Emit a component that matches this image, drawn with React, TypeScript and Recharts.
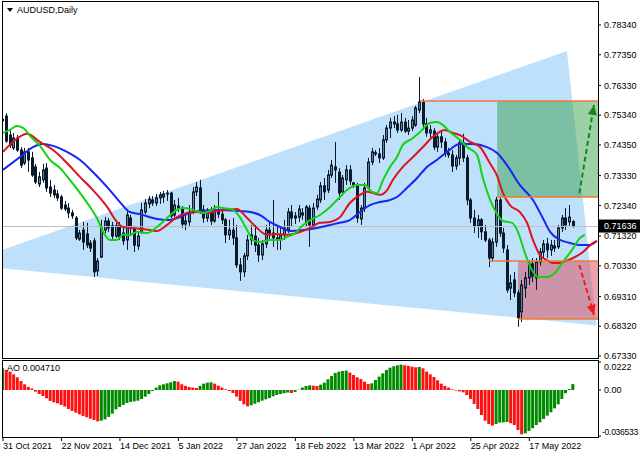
import React from 'react';
import { ComposedChart, Bar, Line, Area, XAxis, YAxis, ReferenceArea, ReferenceLine, Cell } from 'recharts';

const FONT = '"Liberation Sans", Arial, sans-serif';

// ---------- axes ----------
const X_DOMAIN: [number, number] = [-0.27, 162.8];
const PRICE_DOMAIN: [number, number] = [0.67264, 0.79105];
const AO_DOMAIN: [number, number] = [-0.03733, 0.023];

const priceTicks = [0.7834, 0.7735, 0.7633, 0.7534, 0.7435, 0.7333, 0.7234, 0.7132, 0.7033, 0.6931, 0.6832, 0.6733];
const lastPrice = 0.71636;
const aoTicks = [0.0222, 0, -0.036533];
const aoTickLabels = ['0.0222', '0.00', '-0.036533'];
const dateTicks = [0, 16, 32, 48, 64, 80, 96, 112, 128, 144];
const dateLabels = ['31 Oct 2021', '22 Nov 2021', '14 Dec 2021', '5 Jan 2022', '27 Jan 2022', '18 Feb 2022', '13 Mar 2022', '1 Apr 2022', '25 Apr 2022', '17 May 2022'];

// ---------- daily candles [open, high, low, close] ----------
const ohlc: [number, number, number, number][] = [
  [0.7515, 0.7531, 0.7508, 0.7521], [0.7531, 0.7541, 0.7442, 0.7448], [0.7468, 0.7485, 0.7425, 0.7435], [0.7425, 0.7475, 0.7418, 0.7458],
  [0.7458, 0.7468, 0.7412, 0.7418], [0.7418, 0.7428, 0.7358, 0.7368], [0.7375, 0.7425, 0.7368, 0.7412], [0.7412, 0.7425, 0.7345, 0.7385],
  [0.7392, 0.7412, 0.7329, 0.7335], [0.7362, 0.7372, 0.7305, 0.7312], [0.7305, 0.7345, 0.7295, 0.7329], [0.7319, 0.7372, 0.7309, 0.7352],
  [0.7358, 0.7375, 0.7279, 0.7292], [0.7295, 0.7319, 0.7262, 0.7275], [0.7285, 0.7302, 0.7259, 0.7269], [0.7272, 0.7285, 0.7249, 0.7259],
  [0.7262, 0.7269, 0.7219, 0.7225], [0.7235, 0.7249, 0.7215, 0.7222], [0.7225, 0.7242, 0.7192, 0.7209], [0.7209, 0.7219, 0.7189, 0.7199],
  [0.7192, 0.7199, 0.7119, 0.7126], [0.7122, 0.7152, 0.7116, 0.7142], [0.7152, 0.7179, 0.7086, 0.7112], [0.7139, 0.7176, 0.7092, 0.7102],
  [0.7109, 0.7119, 0.7079, 0.7092], [0.7116, 0.7126, 0.6996, 0.7013], [0.7016, 0.7059, 0.6999, 0.7049], [0.7062, 0.7186, 0.7059, 0.7159],
  [0.7152, 0.7196, 0.7142, 0.7182], [0.7182, 0.7192, 0.7146, 0.7159], [0.7166, 0.7179, 0.7119, 0.7132], [0.7132, 0.7176, 0.7126, 0.7166],
  [0.7166, 0.7179, 0.7119, 0.7129], [0.7142, 0.7166, 0.7102, 0.7116], [0.7119, 0.7219, 0.7086, 0.7202], [0.7192, 0.7202, 0.7132, 0.7159],
  [0.7156, 0.7166, 0.7079, 0.7102], [0.7099, 0.7146, 0.7086, 0.7132], [0.7146, 0.7242, 0.7139, 0.7219], [0.7212, 0.7255, 0.7205, 0.7242],
  [0.7239, 0.7265, 0.7225, 0.7255], [0.7252, 0.7265, 0.7232, 0.7242], [0.7242, 0.7272, 0.7232, 0.7259], [0.7259, 0.7279, 0.7239, 0.7269],
  [0.7262, 0.7282, 0.7242, 0.7272], [0.7272, 0.7285, 0.7249, 0.7275], [0.7275, 0.7279, 0.7192, 0.7199], [0.7202, 0.7252, 0.7195, 0.7235],
  [0.7232, 0.7259, 0.7212, 0.7225], [0.7225, 0.7232, 0.7159, 0.7172], [0.7172, 0.7202, 0.7152, 0.7182], [0.7179, 0.7235, 0.7166, 0.7212],
  [0.7212, 0.7295, 0.7205, 0.7279], [0.7279, 0.7312, 0.7265, 0.7295], [0.7292, 0.7319, 0.7205, 0.7219], [0.7219, 0.7235, 0.7176, 0.7192],
  [0.7192, 0.7225, 0.7179, 0.7209], [0.7209, 0.7229, 0.7169, 0.7182], [0.7182, 0.7235, 0.7176, 0.7219], [0.7215, 0.7279, 0.7192, 0.7205],
  [0.7205, 0.7229, 0.7172, 0.7186], [0.7186, 0.7192, 0.7109, 0.7136], [0.7136, 0.7186, 0.7119, 0.7152], [0.7152, 0.7192, 0.7102, 0.7126],
  [0.7126, 0.7169, 0.7026, 0.7036], [0.7036, 0.7059, 0.6983, 0.7013], [0.7013, 0.7076, 0.6996, 0.7066], [0.7066, 0.7136, 0.7052, 0.7119],
  [0.7119, 0.7169, 0.7102, 0.7136], [0.7132, 0.7169, 0.7079, 0.7102], [0.7102, 0.7126, 0.7046, 0.7069], [0.7069, 0.7119, 0.7052, 0.7106],
  [0.7106, 0.7169, 0.7092, 0.7152], [0.7152, 0.7179, 0.7119, 0.7142], [0.7142, 0.7252, 0.7096, 0.7126], [0.7126, 0.7169, 0.7086, 0.7119],
  [0.7119, 0.7159, 0.7086, 0.7136], [0.7136, 0.7186, 0.7119, 0.7159], [0.7152, 0.7225, 0.7142, 0.7212], [0.7212, 0.7235, 0.7162, 0.7192],
  [0.7192, 0.7212, 0.7172, 0.7199], [0.7195, 0.7235, 0.7179, 0.7222], [0.7209, 0.7225, 0.7186, 0.7202], [0.7179, 0.7235, 0.7162, 0.7229],
  [0.7225, 0.7235, 0.7096, 0.7169], [0.7169, 0.7242, 0.7159, 0.7225], [0.7229, 0.7269, 0.7219, 0.7255], [0.7252, 0.7312, 0.7242, 0.7299],
  [0.7299, 0.7325, 0.7252, 0.7279], [0.7285, 0.7352, 0.7275, 0.7335], [0.7335, 0.7385, 0.7325, 0.7368], [0.7362, 0.7445, 0.7309, 0.7352],
  [0.7345, 0.7358, 0.7252, 0.7275], [0.7279, 0.7335, 0.7265, 0.7325], [0.7319, 0.7368, 0.7302, 0.7352], [0.7352, 0.7368, 0.7302, 0.7315],
  [0.7309, 0.7312, 0.7292, 0.7299], [0.7299, 0.7309, 0.7176, 0.7192], [0.7189, 0.7235, 0.7169, 0.7225], [0.7225, 0.7309, 0.7212, 0.7292],
  [0.7292, 0.7392, 0.7285, 0.7378], [0.7378, 0.7425, 0.7368, 0.7412], [0.7409, 0.7418, 0.7398, 0.7405], [0.7405, 0.7425, 0.7375, 0.7392],
  [0.7392, 0.7468, 0.7385, 0.7452], [0.7452, 0.7501, 0.7442, 0.7491], [0.7491, 0.7525, 0.7458, 0.7511], [0.7511, 0.7531, 0.7491, 0.7505],
  [0.7505, 0.7535, 0.7475, 0.7485], [0.7485, 0.7541, 0.7478, 0.7511], [0.7511, 0.7525, 0.7475, 0.7481], [0.7481, 0.7518, 0.7468, 0.7491],
  [0.7491, 0.7531, 0.7481, 0.7518], [0.7501, 0.7565, 0.7495, 0.7558], [0.7551, 0.7661, 0.7541, 0.7578], [0.7578, 0.7588, 0.7485, 0.7505],
  [0.7505, 0.7525, 0.7462, 0.7475], [0.7475, 0.7501, 0.7452, 0.7485], [0.7481, 0.7491, 0.7418, 0.7428], [0.7428, 0.7475, 0.7412, 0.7462],
  [0.7462, 0.7485, 0.7425, 0.7445], [0.7445, 0.7458, 0.7395, 0.7408], [0.7408, 0.7425, 0.7392, 0.7402], [0.7402, 0.7418, 0.7345, 0.7365],
  [0.7365, 0.7402, 0.7352, 0.7392], [0.7392, 0.7452, 0.7368, 0.7442], [0.7442, 0.7472, 0.7378, 0.7392], [0.7392, 0.7402, 0.7235, 0.7252],
  [0.7252, 0.7259, 0.7176, 0.7192], [0.7192, 0.7219, 0.7142, 0.7166], [0.7166, 0.7202, 0.7126, 0.7186], [0.7186, 0.7192, 0.7119, 0.7146],
  [0.7146, 0.7169, 0.7112, 0.7119], [0.7119, 0.7126, 0.7029, 0.7059], [0.7059, 0.7126, 0.7046, 0.7112], [0.7112, 0.7262, 0.7096, 0.7252],
  [0.7252, 0.7259, 0.7129, 0.7142], [0.7142, 0.7159, 0.7076, 0.7092], [0.7086, 0.7102, 0.6943, 0.6953], [0.6959, 0.7003, 0.6919, 0.6976],
  [0.6986, 0.7013, 0.6929, 0.6943], [0.6943, 0.6953, 0.683, 0.686], [0.688, 0.6986, 0.6846, 0.6969], [0.6959, 0.7013, 0.6926, 0.6993],
  [0.6993, 0.7052, 0.6969, 0.7039], [0.7039, 0.7059, 0.6979, 0.6999], [0.6993, 0.7059, 0.6953, 0.7046], [0.7046, 0.7092, 0.7033, 0.7079],
  [0.7079, 0.7119, 0.7059, 0.7106], [0.7106, 0.7126, 0.7059, 0.7086], [0.7086, 0.7119, 0.7066, 0.7102], [0.7099, 0.7119, 0.7079, 0.7092],
  [0.7096, 0.7169, 0.7089, 0.7159], [0.7159, 0.7202, 0.7146, 0.7192], [0.7192, 0.7225, 0.7152, 0.7169], [0.7179, 0.7235, 0.7166, 0.7195],
  [0.718, 0.7185, 0.716, 0.71636],
];

// ---------- Awesome Oscillator ----------
const aoValues = [
  0.0172, 0.0159, 0.0146, 0.0124, 0.0101, 0.0071, 0.0045, 0.0024, 0.0011, -0.0013,
  -0.0032, -0.0048, -0.0066, -0.0087, -0.0098, -0.0106, -0.0119, -0.0132, -0.0151, -0.0167,
  -0.018, -0.0193, -0.0206, -0.0217, -0.0228, -0.0238, -0.0249, -0.0244, -0.0233, -0.0214,
  -0.0188, -0.0154, -0.0135, -0.0119, -0.0103, -0.0095, -0.009, -0.0085, -0.0071, -0.0053,
  -0.0032, -0.0008, 0.0019, 0.0037, 0.0045, 0.0053, 0.0061, 0.0071, 0.0066, 0.0045,
  0.0032, 0.0024, 0.0019, 0.0016, 0.0032, 0.005, 0.0058, 0.0061, 0.005, 0.0034,
  0.0019, 0.0005, -0.0008, -0.0024, -0.0053, -0.0087, -0.0114, -0.013, -0.0122, -0.0109,
  -0.0098, -0.0085, -0.0074, -0.0064, -0.005, -0.004, -0.0032, -0.0026, -0.0021, -0.0024,
  -0.0016, 0.0002, 0.0019, 0.0032, 0.0037, 0.0034, 0.0032, 0.0042, 0.0058, 0.0085,
  0.0111, 0.0135, 0.0146, 0.0151, 0.0154, 0.0138, 0.0119, 0.0101, 0.0087, 0.0066,
  0.0048, 0.0053, 0.0079, 0.0106, 0.0132, 0.0159, 0.0177, 0.0188, 0.0196, 0.0201,
  0.0196, 0.0191, 0.0185, 0.018, 0.0183, 0.0172, 0.0146, 0.0124, 0.0103, 0.0077,
  0.005, 0.0032, 0.0019, 0.0005, -0.0005, -0.0011, -0.0019, -0.004, -0.0071, -0.0111,
  -0.0151, -0.0199, -0.0244, -0.027, -0.0283, -0.027, -0.0259, -0.0257, -0.0254, -0.0265,
  -0.0278, -0.0318, -0.0352, -0.0344, -0.0326, -0.0304, -0.0278, -0.0257, -0.023, -0.0204,
  -0.0177, -0.0146, -0.0114, -0.0071, -0.0026, 0.0008, 0.0047,
];
const aoLabel = 'AO 0.004710';

// ---------- Alligator lines [bar, price] ----------
const jaw: [number, number][] = [
  [0, 0.7352], [4.65, 0.7395], [8.2, 0.7428], [10.9, 0.7438], [13.7, 0.7432], [17.5, 0.7412], [21.1, 0.7385],
  [24.6, 0.7345], [28.5, 0.7295], [32, 0.7245], [34.7, 0.7212], [37.5, 0.7205], [41, 0.7192], [44.9, 0.7185],
  [48.4, 0.7195], [51.2, 0.7209], [53.9, 0.7215], [59.4, 0.7219], [64.8, 0.7215], [67.6, 0.7212], [70.3, 0.7202],
  [73, 0.7179], [75.8, 0.7162], [78.5, 0.7149], [82.1, 0.7152], [85.9, 0.7159], [89.5, 0.7169], [92.2, 0.7176],
  [94.9, 0.7185], [97.7, 0.7212], [100.4, 0.7235], [103.1, 0.7245], [105.9, 0.7252], [107.8, 0.7262], [110.5, 0.7292],
  [113.3, 0.7325], [116, 0.7362], [118.7, 0.7385], [121.5, 0.7412], [125, 0.7438], [128.6, 0.7438], [132.4, 0.7428],
  [135.2, 0.7408], [137.9, 0.7368], [141.4, 0.7302], [145, 0.7252], [147.7, 0.7192], [149.7, 0.7146], [152.4, 0.7119],
  [155.1, 0.7109], [157.9, 0.7102], [160.6, 0.7102], [162.5, 0.7116],
];
const teeth: [number, number][] = [
  [0, 0.7412], [2.7, 0.7445], [6.6, 0.7472], [10.1, 0.7445], [13.7, 0.7418], [17.5, 0.7375], [21.1, 0.7328],
  [24.6, 0.7285], [28.5, 0.7229], [31.2, 0.7179], [32.8, 0.7162], [37.5, 0.7156], [40.2, 0.7152], [42.1, 0.7149],
  [44.9, 0.7169], [47.6, 0.7195], [50.3, 0.7209], [53.1, 0.7212], [55.8, 0.7209], [58.5, 0.7215], [61.3, 0.7219],
  [64, 0.7222], [66.8, 0.7192], [69.5, 0.7159], [72.2, 0.7136], [75, 0.7139], [77.7, 0.7136], [80.4, 0.7142],
  [84, 0.7159], [86.7, 0.7176], [89.5, 0.7179], [92.2, 0.7195], [94.9, 0.7242], [97.7, 0.7269], [99.6, 0.7279],
  [101.2, 0.7275], [103.1, 0.7269], [105.1, 0.7285], [106.7, 0.7319], [109.4, 0.7362], [112.2, 0.7395], [114.9, 0.7428],
  [117.6, 0.7462], [120.9, 0.7485], [123.1, 0.7475], [125, 0.7468], [127.8, 0.7445], [130.5, 0.7428], [133.2, 0.7375],
  [135.2, 0.7332], [136.8, 0.7275], [138.7, 0.7235], [141.4, 0.7212], [143.4, 0.7176], [145, 0.7119], [146.9, 0.7069],
  [148.8, 0.7052], [150.5, 0.7042], [153.2, 0.7046], [156, 0.7059], [158.7, 0.7079], [161.4, 0.7109], [162.5, 0.7116],
];
const lips: [number, number][] = [
  [0, 0.7475], [1.9, 0.7485], [3.8, 0.7498], [5.5, 0.7492], [7.4, 0.7465], [10.1, 0.7432], [12.9, 0.7385],
  [15.6, 0.7358], [18.3, 0.7319], [21.1, 0.7275], [23.8, 0.7229], [25.7, 0.7192], [27.4, 0.7146], [29.3, 0.7119],
  [31.2, 0.7119], [32.8, 0.7136], [34.7, 0.7136], [36.7, 0.7146], [39.4, 0.7142], [42.1, 0.7162], [44.9, 0.7192],
  [47.6, 0.7219], [49.2, 0.7225], [52, 0.7219], [54.7, 0.7209], [57.2, 0.7219], [58.5, 0.7229], [60.2, 0.7225],
  [62.9, 0.7219], [64.8, 0.7195], [66.8, 0.7152], [68.4, 0.7119], [70.3, 0.7112], [73, 0.7119], [75.8, 0.7119],
  [77.7, 0.7129], [80.4, 0.7146], [81.3, 0.7159], [84, 0.7185], [86.7, 0.7202], [89.5, 0.7229], [92.2, 0.7262],
  [94.1, 0.7285], [96.9, 0.7302], [99, 0.7302], [101, 0.7279], [102.3, 0.7275], [104, 0.7319], [105.9, 0.7362],
  [107.8, 0.7395], [109.4, 0.7435], [112.2, 0.7458], [114.1, 0.7478], [116.8, 0.7508], [118.7, 0.7511], [120.4, 0.7501],
  [122.3, 0.7478], [125, 0.7452], [127, 0.7428], [129.7, 0.7402], [131.3, 0.7325], [133.2, 0.7255], [135.2, 0.7205],
  [136.8, 0.7182], [139.3, 0.7176], [140.9, 0.7146], [142.8, 0.7076], [144.7, 0.7019], [146.4, 0.6996], [148.8, 0.6996],
  [151, 0.7009], [153.2, 0.7046], [155.7, 0.7086], [157.9, 0.7126], [159.2, 0.7136],
];

// ---------- drawn objects ----------
// wedge: [bar, lower edge, upper edge]
const wedge: [number, number, number][] = [[-0.27, 0.70248, 0.70857], [154.3, 0.68446, 0.77476], [162.4, 0.68349, 0.68349]];
// target zones: [from bar, low price, high price, colour, opacity]
const zones: [number, number, number, string, number][] = [
  [135.2, 0.72619, 0.75812, 'rgb(40,150,60)', 0.45],
  [140.9, 0.68562, 0.70491, 'rgb(218,69,88)', 0.5],
];
// horizontal levels: [from bar, price]
const levels: [number, number][] = [[114.1, 0.75812], [135.2, 0.72619], [133.0, 0.70491], [140.9, 0.68562]];
// projected moves: [bar, price] start and tip
const arrowUp: [number, number][] = [[157.7, 0.72743], [161.7, 0.7568]];
const arrowDown: [number, number][] = [[157.7, 0.70358], [161.7, 0.68695]];

// ---------- styles ----------
const WICK = '#0b1a2b';
const BULL = '#5f7f9d';
const BEAR = '#0b1a2b';

const candleRows = ohlc.map(([o, h, l, c], i) => ({ x: i, range: [l, h], o, h, l, c }));
const aoRows = aoValues.map((v, i) => ({ x: i, ao: v }));
const toRows = (pts: [number, number][]) => pts.map(([x, v]) => ({ x, v }));
const wedgeRows = wedge.map(([x, lo, hi]) => ({ x, band: [lo, hi] }));

const renderCandle = (props: any) => {
  const { x, y, width, height, payload } = props;
  if (x == null || y == null || !payload) return <g />;
  const top = Math.min(y, y + height);
  const bot = Math.max(y, y + height);
  const span = payload.h - payload.l || 1e-9;
  const py = (p: number) => top + ((payload.h - p) / span) * (bot - top);
  const cx = x + width / 2;
  const left = Math.round(cx - 1.5);
  const bull = payload.c >= payload.o;
  const yo = py(payload.o);
  const yc = py(payload.c);
  const bTop = Math.min(yo, yc);
  const bH = Math.max(1, Math.abs(yo - yc));
  return (
    <g>
      <line x1={left + 1.5} x2={left + 1.5} y1={top} y2={bot} stroke={WICK} strokeWidth={1} />
      <rect x={left + 0.5} y={bTop} width={2} height={bH} fill={bull ? BULL : BEAR} stroke={WICK} strokeWidth={1} />
    </g>
  );
};

const makeArrowHead = (color: string) => {
  let prev: { x: number; y: number } | null = null;
  return (props: any) => {
    const { cx, cy, index, points } = props;
    if (index === 0) {
      prev = { x: cx, y: cy };
      return <g key={`ah${index}`} />;
    }
    const p0 = points && points[index - 1] ? points[index - 1] : prev;
    if (!p0) return <g key={`ah${index}`} />;
    const dx = cx - p0.x;
    const dy = cy - p0.y;
    const len = Math.hypot(dx, dy) || 1;
    const ux = dx / len;
    const uy = dy / len;
    const L = 10;
    const W = 4.5;
    const bx = cx - ux * L;
    const by = cy - uy * L;
    const pts = `${cx},${cy} ${bx - uy * W},${by + ux * W} ${bx + uy * W},${by - ux * W}`;
    return <polygon key={`ah${index}`} points={pts} fill={color} stroke="none" />;
  };
};

const PriceTick = (props: any) => {
  const { x, y, payload } = props;
  const v = payload.value as number;
  if (Math.abs(v - lastPrice) < 1e-9) {
    return (
      <g>
        <rect x={x - 5} y={y - 7} width={42} height={13} fill="#000" />
        <text x={x} y={y} dy="0.3em" fontSize={9} fontFamily={FONT} fill="#fff">{v.toFixed(5)}</text>
      </g>
    );
  }
  return <text x={x} y={y} dy="0.35em" fontSize={9} fontFamily={FONT} fill="#000">{v.toFixed(5)}</text>;
};

const AoTick = (props: any) => {
  const { x, y, payload } = props;
  const idx = aoTicks.indexOf(payload.value);
  const shift = idx === 0 ? 5 : idx === 2 ? -4 : 0;
  const narrow = idx === 2;
  return (
    <text
      x={narrow ? x - 2 : x}
      y={y + shift}
      dy="0.35em"
      fontSize={narrow ? 8.6 : 9}
      letterSpacing={narrow ? -0.3 : 0}
      fontFamily={FONT}
      fill="#000"
    >
      {aoTickLabels[idx] ?? ''}
    </text>
  );
};

const DateTick = (props: any) => {
  const { x, y, payload } = props;
  const idx = dateTicks.indexOf(payload.value);
  return <text x={x} y={y} dy="0.71em" fontSize={9} fontFamily={FONT} fill="#000" textAnchor="start">{dateLabels[idx] ?? ''}</text>;
};

export default function App() {
  return (
    <div style={{ position: 'absolute', left: 0, top: 0, width: 640, height: 457, background: '#fff', overflow: 'hidden', fontFamily: FONT }}>
      <div style={{ position: 'absolute', left: 0, top: 0 }}>
        <ComposedChart width={640} height={360} data={candleRows} margin={{ top: 2, right: 0, bottom: 2, left: 2 }}>
          <XAxis dataKey="x" type="number" domain={X_DOMAIN} allowDataOverflow hide />
          <YAxis
            orientation="right"
            width={42}
            type="number"
            domain={PRICE_DOMAIN}
            allowDataOverflow
            ticks={[...priceTicks, lastPrice]}
            interval={0}
            axisLine={false}
            tickLine={{ stroke: '#000' }}
            tickSize={3}
            tickMargin={3}
            tick={PriceTick}
          />
          <Area data={wedgeRows} dataKey="band" type="linear" stroke="none" fill="#bfe0fb" fillOpacity={1} dot={false} activeDot={false} isAnimationActive={false} />
          {zones.map(([x1, lo, hi, color, op], k) => (
            <ReferenceArea key={`z${k}`} x1={x1} x2={X_DOMAIN[1]} y1={lo} y2={hi} fill={color} fillOpacity={op} stroke="none" />
          ))}
          <ReferenceLine y={lastPrice} stroke="#bdbdbd" strokeWidth={1} />
          <Bar dataKey="range" barSize={3} shape={renderCandle} isAnimationActive={false} />
          <Line data={toRows(jaw)} dataKey="v" type="monotone" stroke="#1428f0" strokeWidth={2} dot={false} activeDot={false} isAnimationActive={false} />
          <Line data={toRows(teeth)} dataKey="v" type="monotone" stroke="#dc141e" strokeWidth={2} dot={false} activeDot={false} isAnimationActive={false} />
          <Line data={toRows(lips)} dataKey="v" type="monotone" stroke="#14d214" strokeWidth={2} dot={false} activeDot={false} isAnimationActive={false} />
          {levels.map(([x1, y], k) => (
            <ReferenceLine key={`l${k}`} segment={[{ x: x1, y }, { x: X_DOMAIN[1], y }]} stroke="#f07a32" strokeWidth={1.5} />
          ))}
          <Line data={toRows(arrowUp)} dataKey="v" type="linear" stroke="#13861a" strokeWidth={2} strokeDasharray="5 3" dot={makeArrowHead('#13861a')} activeDot={false} isAnimationActive={false} />
          <Line data={toRows(arrowDown)} dataKey="v" type="linear" stroke="#f21c1c" strokeWidth={2} strokeDasharray="5 3" dot={makeArrowHead('#f21c1c')} activeDot={false} isAnimationActive={false} />
        </ComposedChart>
      </div>

      <div style={{ position: 'absolute', left: 0, top: 356 }}>
        <ComposedChart width={640} height={101} data={aoRows} margin={{ top: 5, right: 0, bottom: 0, left: 2 }}>
          <XAxis
            dataKey="x"
            type="number"
            domain={X_DOMAIN}
            allowDataOverflow
            ticks={dateTicks}
            interval={0}
            height={20}
            axisLine={false}
            tickLine={{ stroke: '#000' }}
            tickSize={4}
            tickMargin={2}
            tick={DateTick}
          />
          <YAxis
            orientation="right"
            width={42}
            type="number"
            domain={AO_DOMAIN}
            allowDataOverflow
            ticks={aoTicks}
            interval={0}
            axisLine={false}
            tickLine={{ stroke: '#000' }}
            tickSize={3}
            tickMargin={3}
            tick={AoTick}
          />
          <Bar dataKey="ao" barSize={3} isAnimationActive={false}>
            {aoRows.map((r, i) => (
              <Cell key={`c${i}`} fill={i === 0 || r.ao > aoRows[i - 1].ao ? '#008a00' : '#ff1010'} />
            ))}
          </Bar>
        </ComposedChart>
      </div>

      {/* panel frames */}
      <div style={{ position: 'absolute', left: 2, top: 1, width: 597, height: 358, border: '1px solid #000', boxSizing: 'border-box' }} />
      <div style={{ position: 'absolute', left: 2, top: 360, width: 597, height: 78, border: '1px solid #000', boxSizing: 'border-box' }} />

      {/* captions */}
      <div style={{ position: 'absolute', left: 7, top: 8, width: 0, height: 0, borderLeft: '3.5px solid transparent', borderRight: '3.5px solid transparent', borderTop: '4px solid #000' }} />
      <div style={{ position: 'absolute', left: 17, top: 4, fontSize: 9, lineHeight: '12px', color: '#000', whiteSpace: 'nowrap' }}>AUDUSD,Daily</div>
      <div style={{ position: 'absolute', left: 7, top: 362, fontSize: 9, lineHeight: '12px', color: '#000', whiteSpace: 'nowrap' }}>{aoLabel}</div>
    </div>
  );
}
